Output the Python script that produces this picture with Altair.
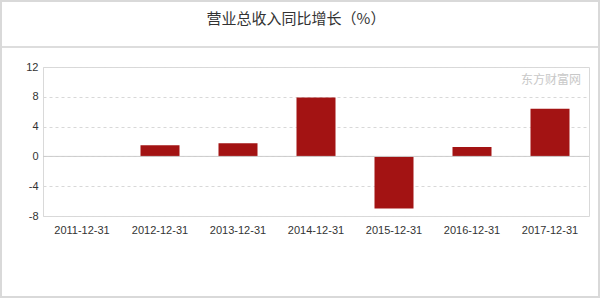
import altair as alt
import pandas as pd

dates = ["2011-12-31", "2012-12-31", "2013-12-31", "2014-12-31", "2015-12-31", "2016-12-31", "2017-12-31"]
growth = [None, 1.5, 1.75, 7.9, -7.0, 1.25, 6.4]
y_ticks = [-8, -4, 0, 4, 8, 12]
title_text = "营业总收入同比增长（%）"

df = pd.DataFrame({"date": dates, "growth": growth})

W, H = 546, 149
PL, PT = 43, 67

yaxis = alt.Axis(title=None, values=y_ticks, ticks=False, domain=False,
                 labelFontSize=11, labelColor="#333", labelPadding=5,
                 labelFont="Liberation Sans", labelOverlap=False,
                 labelExpr="'' + datum.value",
                 grid=True, gridColor="#d8d8d8", gridDash=[3, 3])
yscale = alt.Scale(domain=[-8, 12], nice=False)

bars = alt.Chart(df).mark_bar(color="#a31313").encode(
    x=alt.X("date:N", sort=dates,
            scale=alt.Scale(paddingInner=0.5, paddingOuter=0.25),
            axis=alt.Axis(title=None, labelAngle=0, ticks=False, domain=False,
                          labelFontSize=11, labelColor="#333", labelPadding=8,
                          labelFont="Liberation Sans")),
    y=alt.Y("growth:Q", scale=yscale, axis=yaxis, title=None),
)

zero = alt.Chart(pd.DataFrame({"growth": [0]})).mark_rule(color="#cccccc", strokeWidth=1).encode(
    y=alt.Y("growth:Q", scale=yscale, axis=yaxis, title=None)
)

wm = alt.Chart(pd.DataFrame({"t": ["东方财富网"]})).mark_text(
    color="#c8c8c8", fontSize=12, align="right", font="Noto Sans CJK SC"
).encode(text="t:N", x=alt.value(W - 8), y=alt.value(13))

sep = alt.Chart(pd.DataFrame({"a": [0]})).mark_rule(color="#dddddd", strokeWidth=2).encode(
    x=alt.value(-PL), x2=alt.value(600 - PL), y=alt.value(47 - PT)
)

frame = alt.Chart(pd.DataFrame({"a": [0]})).mark_rect(
    fill=None, stroke="#d9d9d9", strokeWidth=2
).encode(
    x=alt.value(-PL + 1), x2=alt.value(600 - PL - 1),
    y=alt.value(-PT + 1), y2=alt.value(298 - PT - 1)
)

title = alt.Chart(pd.DataFrame({"t": [title_text]})).mark_text(
    fontSize=15, color="#333", font="Noto Sans CJK SC", baseline="middle", align="center"
).encode(text="t:N", x=alt.value(296 - PL), y=alt.value(19 - PT))

chart = alt.layer(bars, zero, wm, sep, frame, title).properties(
    width=W, height=H,
    padding={"left": PL, "top": PT, "right": 600 - PL - W, "bottom": 298 - PT - H},
    autosize=alt.AutoSizeParams(type="none"),
    background="white",
).configure_view(stroke="#d9d9d9", strokeWidth=1)

chart.save("out.html", embed_options={"renderer": "svg", "actions": False})
